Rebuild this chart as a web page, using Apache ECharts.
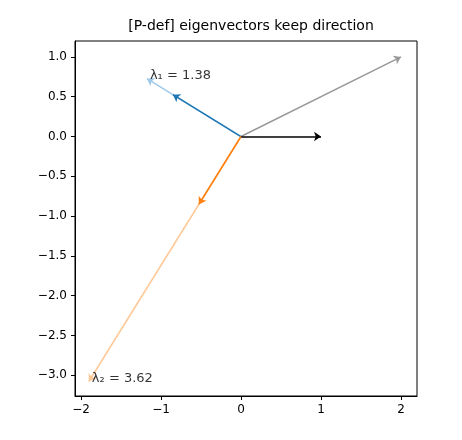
<!DOCTYPE html>
<html><head><meta charset="utf-8">
<script src="https://cdn.jsdelivr.net/npm/echarts@6/dist/echarts.min.js"></script>
<style>body{margin:0}#c{width:462px;height:440px}</style></head>
<body><div id="c"></div>
<script>
const xTicks=[-2,-1,0,1,2];
const yTicks=[1,0.5,0,-0.5,-1,-1.5,-2,-2.5,-3];
const vecNames=['Av1','Av2','Ae1','e1','v1','v2'];
const vecX=[-1.176,-1.902,2,1,-0.851,-0.526];
const vecY=[0.727,-3.078,1,0,0.526,-0.851];
const vecColors=['#9ecae9','#ffc896','#999999','#000000','#1f77b4','#ff7f0e'];
const labelTexts=['λ₁ = 1.38','λ₂ = 3.62'];
const labelX=[-1.176,-1.902];
const labelY=[0.727,-3.078];

const minus=s=>String(s).replace('-','−');
const chart=echarts.init(document.getElementById('c'));
const linesData=vecNames.map((n,i)=>({coords:[[0,0],[vecX[i],vecY[i]]],lineStyle:{color:vecColors[i]}}));
chart.setOption({
  animation:false,
  title:{text:'[P-def] eigenvectors keep direction',left:246,top:14,textAlign:'center',textStyle:{fontSize:14,fontWeight:'normal',color:'#000',fontFamily:'DejaVu Sans'}},
  grid:{left:75,right:45,top:41,bottom:44,show:true,borderColor:'#000',borderWidth:1,backgroundColor:'transparent'},
  xAxis:{type:'value',min:-2.075,max:2.2,splitLine:{show:false},
    axisLine:{onZero:false,lineStyle:{color:'#000'}},
    axisTick:{customValues:xTicks,lineStyle:{color:'#000'},length:4},
    axisLabel:{customValues:xTicks,color:'#000',fontSize:12,fontFamily:'DejaVu Sans',formatter:v=>minus(v)}},
  yAxis:{type:'value',min:-3.26,max:1.2,splitLine:{show:false},
    axisLine:{onZero:false,lineStyle:{color:'#000'}},
    axisTick:{customValues:yTicks,lineStyle:{color:'#000'},length:4},
    axisLabel:{customValues:yTicks,color:'#000',fontSize:12,fontFamily:'DejaVu Sans',formatter:v=>minus(v.toFixed(1))}},
  series:[
    {type:'lines',coordinateSystem:'cartesian2d',symbol:['none','arrow'],symbolSize:7,
     lineStyle:{width:1.5,opacity:1},data:linesData,z:2},
    {type:'scatter',symbolSize:0,z:3,
     data:labelTexts.map((t,i)=>({value:[labelX[i],labelY[i]],label:{show:true,formatter:t,position:'right',offset:[-2,-3],color:'#000',fontSize:13,fontFamily:'DejaVu Sans'}}))}
  ]
});
</script></body></html>
